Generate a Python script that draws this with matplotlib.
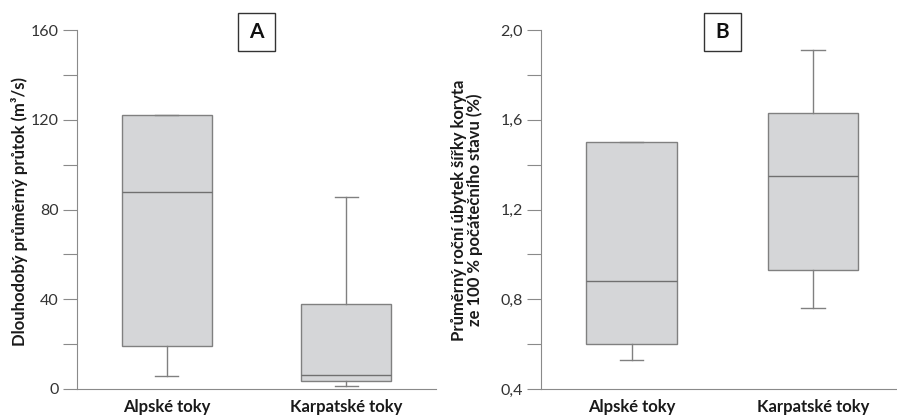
import matplotlib
matplotlib.use("Agg")
import matplotlib.pyplot as plt
from matplotlib.patches import Rectangle
import matplotlib.transforms as mtransforms

plt.rcParams['font.family'] = ['Lato', 'DejaVu Sans']

categories = ["Alpské toky", "Karpatské toky"]

# Panel A: long-term mean discharge (m3/s)
a_whislo = [6, 1.5]
a_q1 = [19, 3.6]
a_med = [88, 6.4]
a_q3 = [122, 37.7]
a_whishi = [122, 85.4]

# Panel B: mean annual channel width decrease (%)
b_whislo = [0.53, 0.76]
b_q1 = [0.60, 0.93]
b_med = [0.88, 1.35]
b_q3 = [1.50, 1.63]
b_whishi = [1.50, 1.91]

a_ticks = [0, 40, 80, 120, 160]
a_ticklabels = ["0", "40", "80", "120", "160"]
a_minor = [20, 60, 100, 140]
b_ticks = [0.4, 0.8, 1.2, 1.6, 2.0]
b_ticklabels = ["0,4", "0,8", "1,2", "1,6", "2,0"]
b_minor = [0.6, 1.0, 1.4, 1.8]

W, H = 897, 416
fig = plt.figure(figsize=(W / 100, H / 100), dpi=100)

def px_axes(left, right, top, bottom):
    return fig.add_axes([left / W, 1 - bottom / H, (right - left) / W, (bottom - top) / H])

axA = px_axes(77, 436, 30, 389)
axB = px_axes(541, 903.5, 30, 389)

face = "#d5d6d8"
edge = "#808080"
med_c = "#707070"
spine_c = "#8a8a8a"
text_c = "#333333"

def draw(ax, lo, q1, med, q3, hi, ticks, ticklabels, minor, ylim, letter):
    stats = []
    for i in range(len(categories)):
        stats.append(dict(whislo=lo[i], q1=q1[i], med=med[i], q3=q3[i],
                          whishi=hi[i], label=categories[i]))
    ax.bxp(stats, positions=[1, 2], widths=0.5, capwidths=0.13,
           showfliers=False, patch_artist=True,
           boxprops=dict(facecolor=face, edgecolor=edge, linewidth=1.0),
           medianprops=dict(color=med_c, linewidth=1.0),
           whiskerprops=dict(color=edge, linewidth=1.0),
           capprops=dict(color=edge, linewidth=1.0))
    ax.set_xlim(0.5, 2.5)
    ax.set_ylim(*ylim)
    ax.set_yticks(ticks)
    ax.set_yticklabels(ticklabels)
    ax.set_yticks(minor, minor=True)
    ax.tick_params(axis='y', which='both', direction='out', length=10,
                   width=0.8, color=spine_c, labelsize=11.5,
                   labelcolor=text_c, pad=3)
    ax.tick_params(axis='x', length=0, pad=7, labelsize=12, labelcolor="#1a1a1a")
    for lab in ax.get_xticklabels():
        lab.set_fontweight('bold')
    for s in ['top', 'right']:
        ax.spines[s].set_visible(False)
    for s in ['left', 'bottom']:
        ax.spines[s].set_color(spine_c)
        ax.spines[s].set_linewidth(0.8)
    trans = mtransforms.blended_transform_factory(ax.transData, ax.transAxes)
    # letter box: ~37 px wide, 38 px tall, centred at x=1.5
    ax_w_px = ax.get_position().width * W
    ax_h_px = ax.get_position().height * H
    wdat = 37 / ax_w_px * 2.0
    hfrac = 38 / ax_h_px
    cy = 1 - 2 / ax_h_px
    ax.add_patch(Rectangle((1.5 - wdat / 2, cy - hfrac / 2), wdat, hfrac,
                           transform=trans, facecolor='white',
                           edgecolor='#333333', linewidth=1.0, clip_on=False,
                           zorder=5))
    ax.text(1.5, cy, letter, transform=trans, ha='center', va='center',
            fontsize=15, fontweight='bold', color='#111111', zorder=6)

draw(axA, a_whislo, a_q1, a_med, a_q3, a_whishi, a_ticks, a_ticklabels,
     a_minor, (0, 160), "A")
draw(axB, b_whislo, b_q1, b_med, b_q3, b_whishi, b_ticks, b_ticklabels,
     b_minor, (0.4, 2.0), "B")

fig.text(20 / W, 1 - 211 / H, "Dlouhodobý průměrný průtok (m³/s)",
         rotation=90, ha='center', va='center', fontsize=12,
         fontweight='bold', color='#1a1a1a')
fig.text(467 / W, 1 - 210 / H,
         "Průměrný roční úbytek šířky koryta\nze 100 % počátečního stavu (%)",
         rotation=90, ha='center', va='center', fontsize=12,
         fontweight='bold', color='#1a1a1a', linespacing=1.0,
         multialignment='center')

fig.savefig("out.png", dpi=100)
